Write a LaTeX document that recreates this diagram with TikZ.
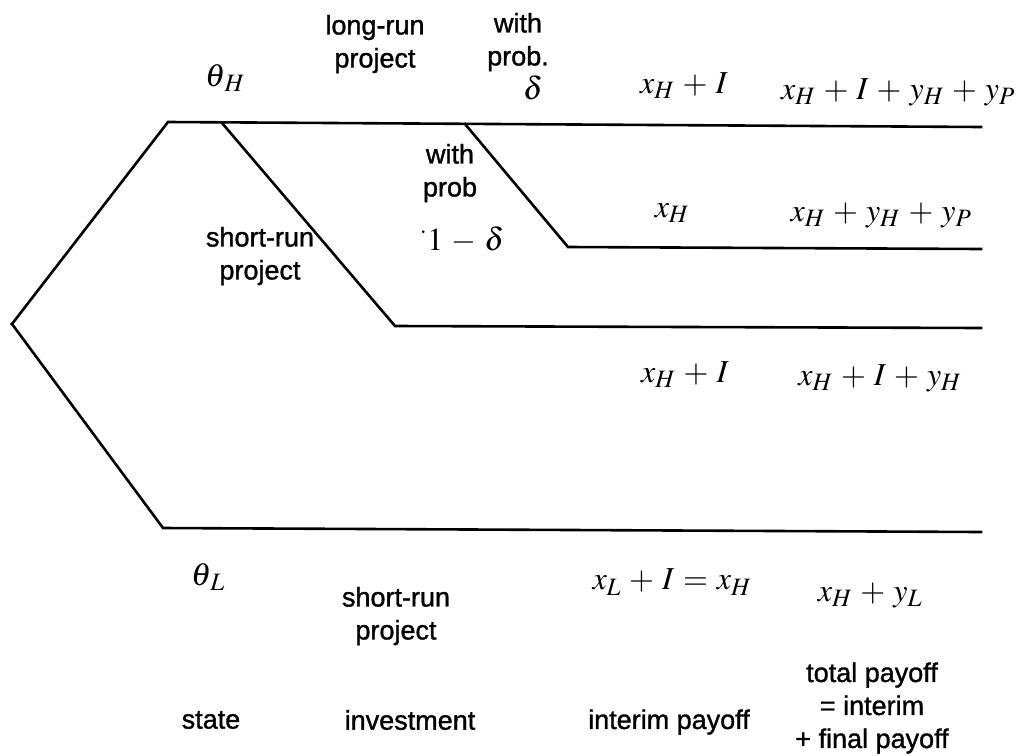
\documentclass[tikz,border=0pt]{standalone}
\usepackage{mathptmx}
\usepackage[no-math]{fontspec}
\setmainfont{Liberation Sans}
\newfontfamily\lblfont{Liberation Sans}[FakeBold=1.2]
\DeclareMathSizes{32}{32}{25}{19}
\medmuskip=4.5mu plus 2mu minus 4mu
\thickmuskip=5mu plus 3mu minus 2mu
\begin{document}
\begin{tikzpicture}[x=1pt,y=-1pt,
  branch/.style={line width=2.6pt, line join=miter, line cap=rect},
  txt/.style={font=\lblfont\fontsize{27}{33}\selectfont, align=center, inner sep=0pt},
  mth/.style={font=\fontsize{32}{34}\selectfont, inner sep=0pt}]
\useasboundingbox (0,0) rectangle (1022,755);
% tree points
\coordinate (root) at (12,324);
\coordinate (a) at (168,122);
\coordinate (s) at (222,123);
\coordinate (n) at (465,124);
\coordinate (topEnd) at (981,127);
\coordinate (sB) at (395,326);
\coordinate (sEnd) at (981,328);
\coordinate (nB) at (568,247);
\coordinate (nEnd) at (981,249);
\coordinate (b) at (163,528);
\coordinate (bEnd) at (981,532);
\draw[branch] (root) -- (a) -- (topEnd);
\draw[branch] (s) -- (sB) -- (sEnd);
\draw[branch] (n) -- (nB) -- (nEnd);
\draw[branch] (root) -- (b) -- (bEnd);
% labels top
\node[mth] (thH) at (225,78) {$\theta_{\,H}$};
\node[txt] (lr) at (375,44) {long-run\\project};
\node[txt] (wp1) at (518,42) {with\\prob.};
\node[mth] (d1) at (533,88) {$\delta$};
\node[txt] (wp2) at (450,173) {with\\prob};
\node[mth] (d2) at (462,240) {${}^{\cdot}1-\delta$};
\node[txt] (sr1) at (260,256) {short-run\\project};
% payoffs
\node[mth] (p1) at (684,86) {$x_H+I$};
\node[mth] (t1) at (898,92) {$x_H+I+y_H+y_P$};
\node[mth] (p2) at (672,213) {$x_H$};
\node[mth] (t2) at (881,215) {$x_H+y_H+y_P$};
\node[mth] (p3) at (685,375) {$x_H+I$};
\node[mth] (t3) at (880,378) {$x_H+I+y_H$};
\node[mth] (thL) at (208,577) {$\theta_{\,L}$};
\node[txt] (sr2) at (396,616) {short-run\\project};
\node[mth] (p4) at (672,582) {$x_L+I=x_H$};
\node[mth] (t4) at (870,595) {$x_H+y_L$};
% column headings
\node[txt] (h1) at (211,720) {state};
\node[txt] (h2) at (410,720) {investment};
\node[txt] (h3) at (669,722) {interim payoff};
\node[txt] (h4) at (872,708) {total payoff\\= interim\\+ final payoff};
\end{tikzpicture}
\end{document}
